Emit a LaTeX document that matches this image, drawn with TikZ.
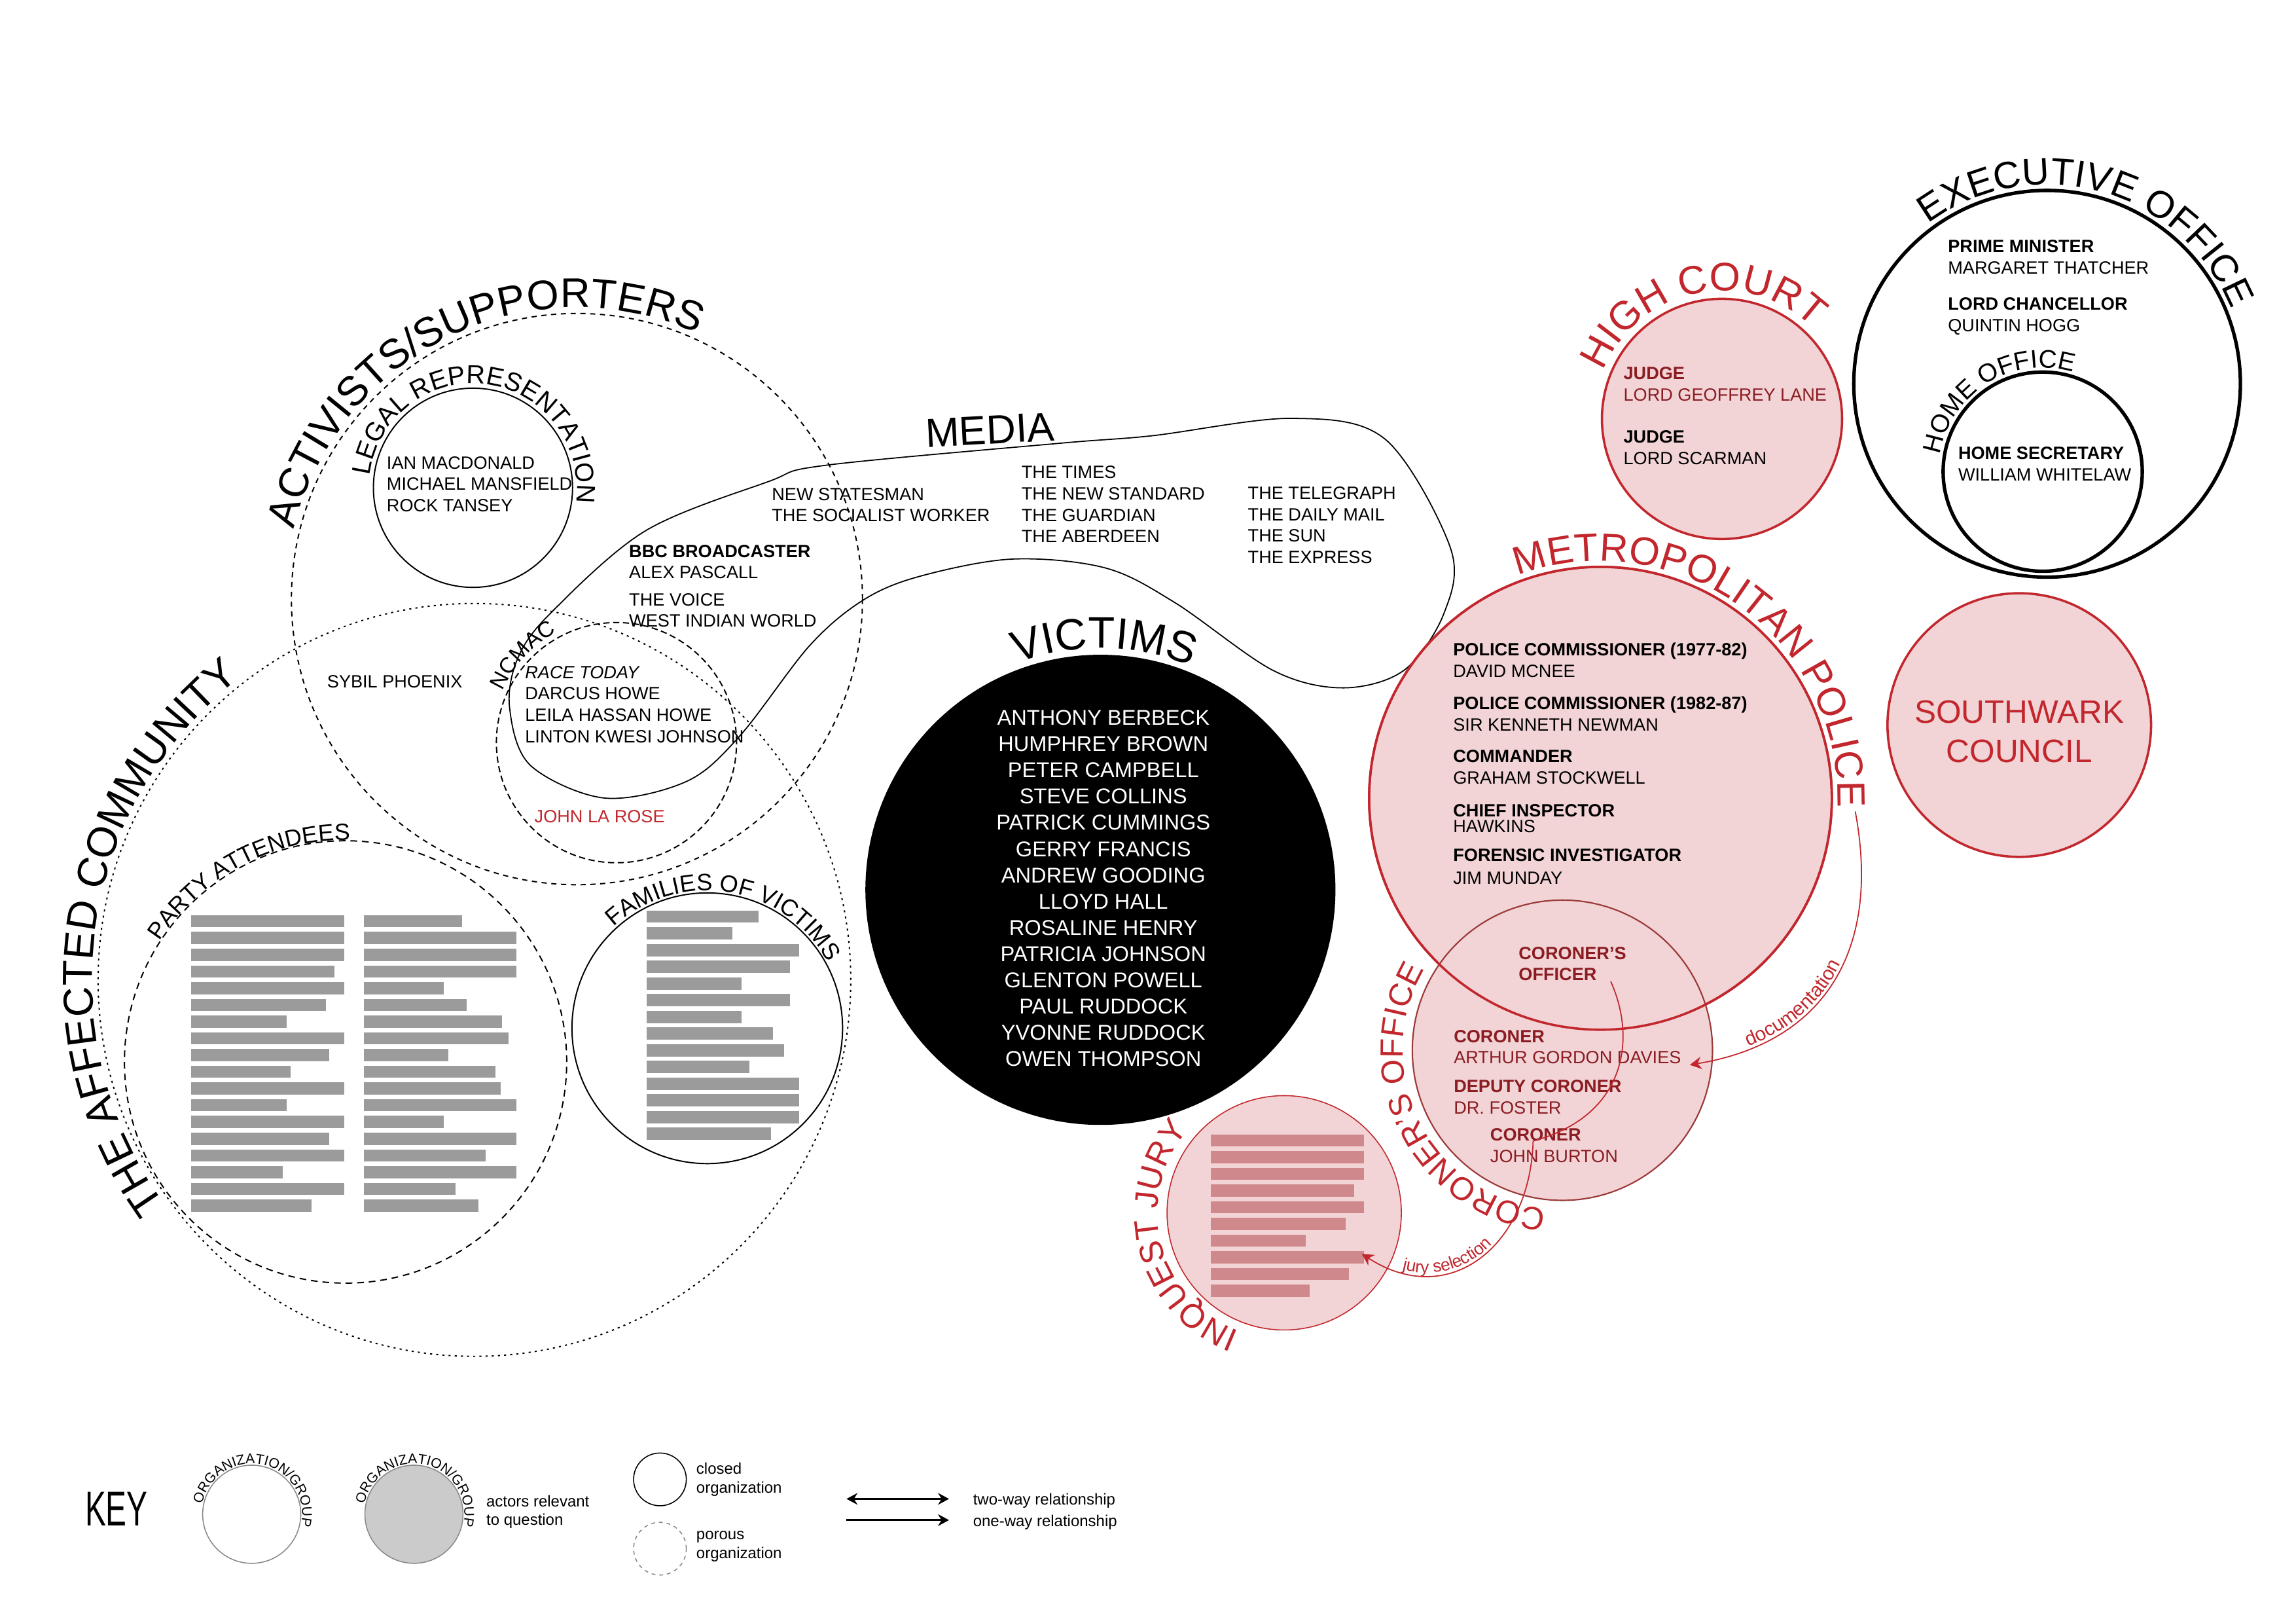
\documentclass[tikz,border=0pt]{standalone}
\usepackage{fontspec}
\setmainfont{Liberation Sans}
\usetikzlibrary{arrows.meta,decorations.text}
\definecolor{metred}{HTML}{C1272D}
\definecolor{darkred}{HTML}{8A1C22}
\definecolor{corline}{HTML}{9B3A3A}
\definecolor{pinkfill}{HTML}{F2D4D6}
\definecolor{jurybar}{HTML}{CF898D}
\definecolor{barfill}{HTML}{9B9B9B}
\definecolor{keygray}{HTML}{CBCBCB}
\definecolor{keyline}{HTML}{8A8A8A}

\newcommand{\smalltxt}{\fontsize{6.9}{8.3}\selectfont}
\newcommand{\keytxt}{\fontsize{6.1}{7.2}\selectfont}
\newcommand{\ringfont}[1]{\fontsize{#1}{#1}\selectfont}
% clockwise label round a circle: centre node, baseline radius, mid angle, format, text
\newcommand{\ringlabel}[5]{%
  \path[decorate, decoration={text along path, text align=center, text={|#4|#5}}]
    (#1.center) ++({-(#3)-110}:#2) arc[start angle={-(#3)-110}, end angle={-(#3)+110}, radius=#2];}

\begin{document}
\begin{tikzpicture}[x=0.2mm, y=-0.2mm,
  org/.style={circle, inner sep=0pt, draw=black, line width=0.5pt},
  porous/.style={org, dash pattern=on 2pt off 1.8pt},
  loose/.style={org, dash pattern=on 0.8pt off 1.6pt},
  execorg/.style={org, line width=1.35pt},
  pinkorg/.style={circle, inner sep=0pt, fill=pinkfill, draw=metred, line width=0.9pt},
  txt/.style={anchor=north west, inner sep=0pt, align=left, font=\smalltxt},
  keylbl/.style={anchor=base west, inner sep=0pt, font=\keytxt},
  bar/.style={fill=barfill},
  jbar/.style={fill=jurybar},
  relarrow/.style={-{Stealth[length=1.6mm, width=1.7mm]}, metred, line width=0.45pt},
  keyarrow/.style={line width=0.7pt, >={Stealth[length=1.5mm, width=1.6mm]}}
]
\useasboundingbox (0,0) rectangle (1568,1108);

% ---------------- community side ----------------
\node[loose, minimum size=102.8mm] (affected) at (324,669) {};
\node[porous, minimum size=78mm] (activists) at (394,409) {};
\node[org, minimum size=27.2mm] (legal) at (323,333) {};
\node[porous, dash pattern=on 2.4pt off 1.4pt, minimum size=32.8mm] (ncmac) at (421,507) {};
\node[porous, dash pattern=on 2.6pt off 1.9pt, minimum size=60.4mm] (party) at (236,725) {};
\node[org, minimum size=36.96mm] (families) at (483,702) {};

\ringlabel{affected}{261}{171.9}{\ringfont{16.3}}{THE AFFECTED COMMUNITY}
\ringlabel{activists}{199}{115.9}{\ringfont{16.1}}{ACTIVISTS/SUPPORTERS}
\ringlabel{legal}{71}{82.5}{\ringfont{10.1}}{LEGAL REPRESENTATION}
\ringlabel{ncmac}{85.5}{137}{\ringfont{8.6}}{NCMAC}
\ringlabel{party}{151.5}{117.9}{\ringfont{9.1}}{PARTY ATTENDEES}
\ringlabel{families}{94}{80.7}{\ringfont{9.2}}{FAMILIES OF VICTIMS}

\node[txt] (lawyers) at (263.8,311.3) {IAN MACDONALD\\MICHAEL MANSFIELD\\ROCK TANSEY};
\node[txt] (sybil) at (223.1,460.6) {SYBIL PHOENIX};
\node[txt] (racetoday) at (358.3,454.4) {\textit{RACE TODAY}\\DARCUS HOWE\\LEILA HASSAN HOWE\\LINTON KWESI JOHNSON};
\node[txt, text=metred] (larose) at (364.7,552.6) {JOHN LA ROSE};

% party attendees and families
\foreach \w [count=\i from 0] in {104.7,104.7,104.7,98.1,104.7,91.9,65.4,104.7,94.4,67.8,104.7,65.4,104.7,94.4,104.7,62.7,104.7,82.3}
  \fill[bar] (130.5,624.8+11.42*\i) rectangle ++(\w,8.3);
\foreach \w [count=\i from 0] in {67.1,104.3,104.3,104.3,54.8,70.6,94.7,98.8,57.9,89.9,93.7,104.3,54.8,104.3,83.3,104.3,63,78.5}
  \fill[bar] (248.3,624.8+11.42*\i) rectangle ++(\w,8.3);
\foreach \w [count=\i from 0] in {76.4,58.2,104,97.5,64.7,97.5,64.7,86.1,93.7,70.2,104,104,104,84.7}
  \fill[bar] (441.8,621.7+11.4*\i) rectangle ++(\w,8.3);

% ---------------- media ----------------
\draw[line width=0.45pt] plot[smooth cycle, tension=0.55] coordinates {(376,418.6) (440.6,362.5) (524.7,328.8) (563.5,317.7) (722.8,302.7) (786.6,297.5) (882.2,285.6) (945.9,299.8) (990.6,374.3) (986,419) (958.7,457.7) (917.2,469.6) (869.4,457.7) (802.5,411.5) (754.7,387.7) (691,381.7) (627.2,393.7) (589,410) (552.7,441) (505,502.7) (468.6,533.6) (412.5,544.8) (362,522.3) (348,483.1) (353.6,449.4)};
\node[rotate=3, font=\fontsize{15.8}{18}\selectfont, inner sep=0pt] (medialbl) at (676,293.5) {MEDIA};
\node[txt] (bbc) at (429.3,371.6) {\textbf{BBC BROADCASTER}\\ALEX PASCALL};
\node[txt] (voice) at (429.3,404.7) {THE VOICE\\WEST INDIAN WORLD};
\node[txt] (leftpress) at (526.8,332.7) {NEW STATESMAN\\THE SOCIALIST WORKER};
\node[txt] (midpress) at (697.3,317.8) {THE TIMES\\THE NEW STANDARD\\THE GUARDIAN\\THE ABERDEEN};
\node[txt] (rightpress) at (851.9,332) {THE TELEGRAPH\\THE DAILY MAIL\\THE SUN\\THE EXPRESS};

% ---------------- victims ----------------
\node[circle, inner sep=0pt, fill=black, minimum size=64.2mm] (victims) at (751.5,607.5) {};
\ringlabel{victims}{165}{89.1}{\ringfont{17.1}}{VICTIMS}
\node[align=center, text=white, inner sep=0pt, font=\fontsize{8.3}{10.2}\selectfont] (victimnames) at (753.5,606.5)
  {ANTHONY BERBECK\\HUMPHREY BROWN\\PETER CAMPBELL\\STEVE COLLINS\\PATRICK CUMMINGS\\GERRY FRANCIS\\ANDREW GOODING\\LLOYD HALL\\ROSALINE HENRY\\PATRICIA JOHNSON\\GLENTON POWELL\\PAUL RUDDOCK\\YVONNE RUDDOCK\\OWEN THOMPSON};

% ---------------- state side ----------------
\node[execorg, minimum size=52.8mm] (exec) at (1398,262) {};
\node[execorg, minimum size=27.2mm] (home) at (1395,322) {};
\ringlabel{exec}{136}{74.3}{\ringfont{14.7}}{EXECUTIVE OFFICE}
\ringlabel{home}{71}{121.75}{\ringfont{9.9}}{HOME OFFICE}
\node[txt] (pm) at (1330,163.7) {\textbf{PRIME MINISTER}\\MARGARET THATCHER};
\node[txt] (lc) at (1330,202.9) {\textbf{LORD CHANCELLOR}\\QUINTIN HOGG};
\node[txt] (hs) at (1337,304.7) {\textbf{HOME SECRETARY}\\WILLIAM WHITELAW};

\node[pinkorg, minimum size=32.8mm] (court) at (1176,286) {};
\ringlabel{court}{87.5}{101.6}{\color{metred}\ringfont{15.5}}{HIGH COURT}
\node[txt, text=darkred] (judge1) at (1108.4,250.3) {\textbf{JUDGE}\\LORD GEOFFREY LANE};
\node[txt] (judge2) at (1108.4,293.7) {\textbf{JUDGE}\\LORD SCARMAN};

\node[pinkorg, minimum size=36mm] (southwark) at (1379,495) {};
\node[align=center, text=metred, inner sep=0pt, font=\fontsize{12.6}{15.4}\selectfont] (swtext) at (1379,499.5) {SOUTHWARK\\COUNCIL};

\node[pinkorg, minimum size=63.2mm] (metro) at (1093,545) {};
\node[pinkorg, draw=corline, line width=0.55pt, minimum size=41mm] (coroner) at (1067,717) {};
\draw[metred, line width=0.9pt] (metro.center) circle[radius=158];
\ringlabel{metro}{162}{54.1}{\color{metred}\ringfont{15.3}}{METROPOLITAN POLICE}
\ringlabel{coroner}{109}{206.9}{\color{metred}\ringfont{12.5}}{CORONER’S OFFICE}

\node[txt] (comm1) at (992.1,438.5) {\textbf{POLICE COMMISSIONER (1977-82)}\\DAVID MCNEE};
\node[txt] (comm2) at (992.1,475.1) {\textbf{POLICE COMMISSIONER (1982-87)}\\SIR KENNETH NEWMAN};
\node[txt] (commander) at (992.1,511.5) {\textbf{COMMANDER}\\[0.3pt]GRAHAM STOCKWELL};
\node[txt] (inspector) at (992.1,548.8) {\textbf{CHIEF INSPECTOR}\\[-2.2pt]HAWKINS};
\node[txt] (forensic) at (992.1,579) {\textbf{FORENSIC INVESTIGATOR}\\[0.7pt]JIM MUNDAY};

\node[txt, text=darkred] (cofficer) at (1036.8,646.1) {\textbf{CORONER’S}\\\textbf{OFFICER}};
\node[txt, text=darkred] (coroner1) at (992.5,702.8) {\textbf{CORONER}\\ARTHUR GORDON DAVIES};
\node[txt, text=darkred] (deputy) at (992.5,736.9) {\textbf{DEPUTY CORONER}\\DR. FOSTER};
\node[txt, text=darkred] (coroner2) at (1017.4,770.1) {\textbf{CORONER}\\JOHN BURTON};

\node[pinkorg, line width=0.4pt, minimum size=32mm] (jury) at (877,828) {};
\ringlabel{jury}{86.5}{194.2}{\color{metred}\ringfont{12.9}}{INQUEST JURY}
\foreach \w [count=\i from 0] in {104.7,104.7,104.7,97.8,104.7,92.2,65,104.7,94.4,67.8}
  \fill[jbar] (826.8,774.4+11.4*\i) rectangle ++(\w,8.4);

% ---------------- relationships ----------------
\coordinate (docfrom) at (1267,554);
\coordinate (docto) at (1154,727);
\draw[relarrow] (docfrom) .. controls (1285,650) and (1245,712) .. (docto);
\path[decorate, decoration={text along path, text align={left, left indent=24pt}, raise=0.8pt,
  text={|\color{metred}\fontsize{7.6}{8}\selectfont|documentation}}]
  (docto) .. controls (1245,712) and (1285,650) .. (docfrom);

\coordinate (jurfrom) at (1100,670);
\coordinate (jurkink) at (1047,779);
\coordinate (jurto) at (930,856);
\draw[relarrow] (jurfrom) .. controls (1118,710) and (1110,762) .. (jurkink)
  .. controls (1045,850) and (990,895) .. (jurto);
\path[decorate, decoration={text along path, text align={left, left indent=17pt}, raise=0.8pt,
  text={|\color{metred}\fontsize{6.7}{7}\selectfont|jury selection}}]
  (jurto) .. controls (990,895) and (1045,850) .. (jurkink);

% ---------------- key ----------------
\node[inner sep=0pt] (keytitle) at (79.5,1030) {\scalebox{0.64}[1]{\fontsize{19}{20}\selectfont KEY}};
\node[circle, inner sep=0pt, fill=white, draw=keyline, line width=0.4pt, minimum size=13.4mm] (keyorg) at (171.9,1033.8) {};
\node[circle, inner sep=0pt, fill=keygray, draw=keyline, line width=0.4pt, minimum size=13.4mm] (keyrel) at (282.7,1033.8) {};
\ringlabel{keyorg}{34.5}{77.5}{\ringfont{5.4}}{ORGANIZATION/GROUP}
\ringlabel{keyrel}{34.5}{77.5}{\ringfont{5.4}}{ORGANIZATION/GROUP}
\node[keylbl] (keyrel1) at (331.8,1028.8) {actors relevant};
\node[keylbl] (keyrel2) at (331.8,1041.4) {to question};

\node[circle, inner sep=0pt, draw=black, line width=0.4pt, minimum size=7.2mm] (keyclosed) at (450.7,1010) {};
\node[circle, inner sep=0pt, draw=keyline, line width=0.4pt, dash pattern=on 1.5pt off 1.5pt, minimum size=7.2mm] (keyporous) at (450.7,1057.3) {};
\node[keylbl] (keyclosed1) at (475.2,1006.4) {closed};
\node[keylbl] (keyclosed2) at (475.2,1019.1) {organization};
\node[keylbl] (keyporous1) at (475.2,1051.1) {porous};
\node[keylbl] (keyporous2) at (475.2,1063.8) {organization};

\coordinate (twofrom) at (578.1,1023.3);
\coordinate (twoto) at (648.1,1023.3);
\coordinate (onefrom) at (578.1,1037.8);
\coordinate (oneto) at (648.1,1037.8);
\draw[keyarrow, <->] (twofrom) -- (twoto);
\draw[keyarrow, ->] (onefrom) -- (oneto);
\node[keylbl] (keytwo) at (664.2,1027.2) {two-way relationship};
\node[keylbl] (keyone) at (664.2,1042.1) {one-way relationship};
\end{tikzpicture}
\end{document}
